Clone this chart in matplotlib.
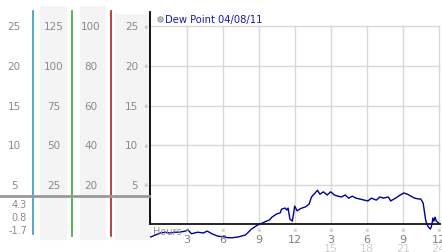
import matplotlib
matplotlib.use("Agg")
import matplotlib.pyplot as plt
import matplotlib.transforms as mtransforms
from matplotlib.patches import Rectangle
from matplotlib.lines import Line2D

plt.rcParams['font.family'] = ['DejaVu Sans', 'Noto Sans CJK SC']

# dew point over the day (hour, value)
hours = [0.0, 0.4, 0.8, 1.2, 1.6, 2.0, 2.4, 2.9, 3.1, 3.4, 3.9, 4.4, 4.7, 5.1, 5.6,
         6.2, 6.4, 6.8, 7.3, 7.9, 8.4, 8.9, 9.3, 9.5, 9.9, 10.1, 10.5, 10.8, 10.9,
         11.2, 11.35, 11.45, 11.6, 11.8, 11.9, 12.0, 12.2, 12.4, 12.6, 12.9, 13.2,
         13.4, 13.7, 13.9, 14.1, 14.4, 14.7, 15.0, 15.3, 15.6, 15.9, 16.2, 16.5,
         16.8, 17.1, 17.4, 17.8, 18.1, 18.4, 18.8, 19.1, 19.4, 19.8, 20.0, 20.4,
         20.8, 21.1, 21.4, 21.8, 22.0, 22.3, 22.5, 22.7, 22.8, 22.9, 23.0, 23.15,
         23.3, 23.38, 23.45, 23.52, 23.6, 23.7, 23.8, 24.0]
dewpoint = [-1.6, -1.35, -1.1, -1.0, -1.1, -1.0, -1.0, -0.85, -0.7, -1.2, -1.0, -1.1,
            -0.85, -1.2, -1.5, -1.6, -1.7, -1.7, -1.6, -1.35, -0.6, -0.1, 0.15, 0.3,
            0.55, 0.9, 1.3, 1.45, 1.9, 2.05, 1.8, 2.05, 0.65, 0.4, 1.3, 2.3, 1.7,
            1.9, 2.05, 2.2, 2.55, 3.45, 3.95, 4.3, 3.8, 4.1, 3.7, 4.1, 3.7, 3.55,
            3.45, 3.7, 3.3, 3.55, 3.3, 3.2, 3.05, 2.95, 3.3, 3.05, 3.45, 3.3, 3.45,
            2.95, 3.3, 3.7, 3.95, 3.8, 3.45, 3.3, 3.2, 3.2, 2.7, 1.7, 0.65, 0.05,
            -0.35, -0.6, -0.35, 0.15, 0.8, 0.4, 0.9, 0.4, 0.15]

ylevels = [25, 20, 15, 10, 5]
col2_labels = ['125', '100', '75', '50', '25']
col3_labels = ['100', '80', '60', '40', '20']
stats = ['4.3', '0.8', '-1.7']
xticks = [3, 6, 9, 12, 15, 18, 21, 24]
xlabels_top = ['3', '6', '9', '12', '3', '6', '9', '12']
xlabels_low = ['', '', '', '', '15', '18', '21', '24']
title = 'Dew Point 04/08/11'

W, H = 442, 253
fig = plt.figure(figsize=(W / 100, H / 100), dpi=100)


def fx(px):
    return px / W


def fy(py):
    return 1 - py / H


ax = fig.add_axes([fx(149.5), 0, fx(440.5) - fx(149.5), 1])
ax.set_xlim(-0.1, 24.15)
ax.set_ylim(-3.5, 28.45)
ax.patch.set_alpha(0)
for s in ['top', 'right', 'bottom']:
    ax.spines[s].set_visible(False)
ax.spines['left'].set_bounds(0, 26.8)
ax.spines['left'].set_color('black')
ax.spines['left'].set_linewidth(1.3)
ax.set_xticks([])
ax.set_yticks([])

# grid
ax.hlines(ylevels, -0.1, 24.15, color='#d8d8d8', lw=1, zorder=1)
ax.vlines(xticks, 0, 25, color='#d8d8d8', lw=1, zorder=1)
ax.axhline(0, color='black', lw=1.2, zorder=2)

ax.plot(hours, dewpoint, color='#000099', lw=1, zorder=3)

# left panels
for x0, x1, top in [(40, 66, 7), (80, 105, 7), (115, 149, 15)]:
    fig.patches.append(Rectangle((fx(x0), fy(240)), fx(x1) - fx(x0), fy(top) - fy(240),
                                 transform=fig.transFigure, color='#f4f4f4', zorder=-1))
for x, col, bot in [(33, '#3399cc', 235), (72, '#33aa33', 237), (111, '#aa2222', 237)]:
    fig.lines.append(Line2D([fx(x), fx(x)], [fy(12), fy(bot)], transform=fig.transFigure,
                            color=col, lw=1.2, zorder=1))
fig.lines.append(Line2D([0, fx(149)], [fy(197), fy(197)], transform=fig.transFigure,
                        color='#999999', lw=2, zorder=2))

blend = mtransforms.blended_transform_factory(fig.transFigure, ax.transData)
grey = '#8a8a8a'
for v, l2, l3 in zip(ylevels, col2_labels, col3_labels):
    ax.text(fx(14), v, str(v), transform=blend, ha='center', va='center',
            fontsize=7.5, color=grey)
    ax.text(fx(54), v, l2, transform=blend, ha='center', va='center',
            fontsize=7.5, color=grey)
    ax.text(fx(91), v, l3, transform=blend, ha='center', va='center',
            fontsize=7.5, color=grey)
    ax.text(fx(138), v, str(v), transform=blend, ha='right', va='center',
            fontsize=7.5, color=grey)
    ax.text(fx(146), v, '※', transform=blend, ha='center', va='center',
            fontsize=4, color='#aaaaaa')

for i, s in enumerate(stats):
    fig.text(fx(27), fy(205 + 13 * i), s, ha='right', va='center',
             fontsize=7, color=grey)

# x labels
xblend = mtransforms.blended_transform_factory(ax.transData, fig.transFigure)
for x, lt, ll in zip(xticks, xlabels_top, xlabels_low):
    ax.text(x, fy(231), '※', transform=xblend, ha='center', va='center',
            fontsize=4, color='#aaaaaa')
    ax.text(x, fy(240), lt, transform=xblend, ha='center', va='center',
            fontsize=8, color='#808080')
    if ll:
        ax.text(x, fy(249), ll, transform=xblend, ha='center', va='center',
                fontsize=8, color='#d0d0d0')
fig.text(fx(153), fy(232), 'Hours', ha='left', va='center', fontsize=7,
         color='#909090', zorder=1)

# legend/title
fig.lines.append(Line2D([fx(160)], [fy(20)], transform=fig.transFigure, marker='o',
                        markersize=4, markerfacecolor='#bbbbbb',
                        markeredgecolor='#999999', markeredgewidth=0.6))
fig.text(fx(165), fy(20), title, ha='left', va='center', fontsize=7.2,
         color='#1a1aa8')

fig.savefig('out.png', dpi=100)
